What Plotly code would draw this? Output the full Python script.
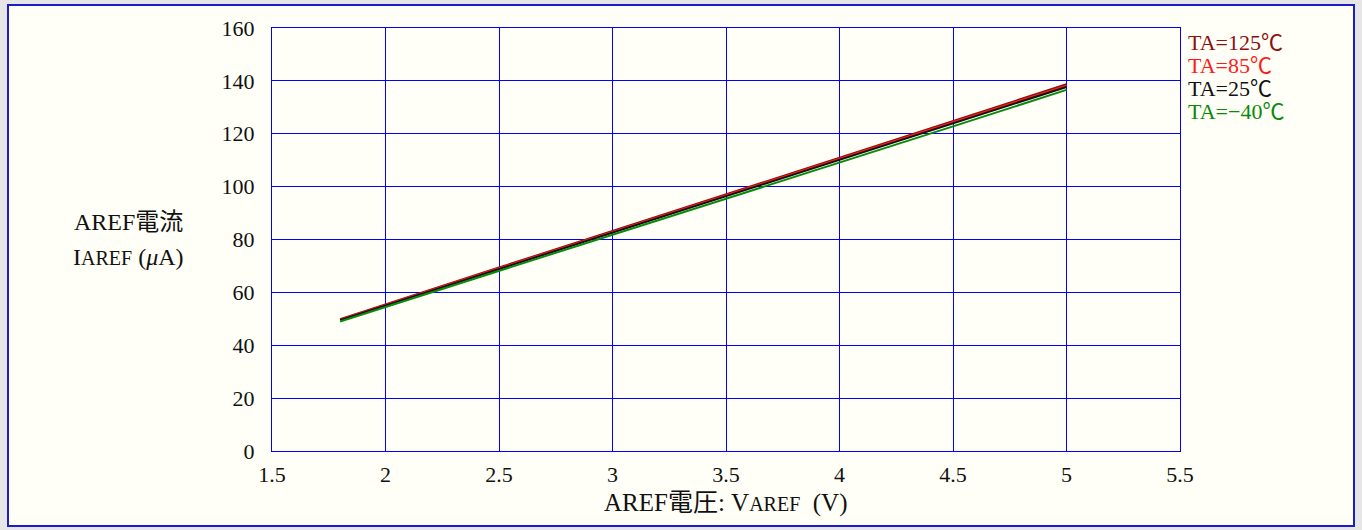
import plotly.graph_objects as go

# AREF voltage (V)
voltage = [1.8, 2.0, 2.5, 3.0, 3.5, 4.0, 4.5, 5.0]

# AREF current (uA) per ambient temperature
i_125 = [49.9, 55.5, 69.4, 83.2, 97.1, 110.9, 124.8, 138.7]
i_85 = [49.7, 55.3, 69.1, 82.9, 96.7, 110.5, 124.4, 138.2]
i_25 = [49.5, 55.0, 68.8, 82.6, 96.4, 110.1, 123.9, 137.7]
i_m40 = [49.0, 54.5, 68.1, 81.8, 95.4, 109.0, 122.8, 136.6]

series_names = ["TA=125℃", "TA=85℃", "TA=25℃", "TA=−40℃"]
series_values = [i_125, i_85, i_25, i_m40]
series_colors = ["#8b1010", "#ff1a1a", "#111111", "#0a8a0a"]

x_ticks = [1.5, 2, 2.5, 3, 3.5, 4, 4.5, 5, 5.5]
y_ticks = [0, 20, 40, 60, 80, 100, 120, 140, 160]

FONT = "Liberation Serif, Noto Sans CJK JP, serif"
W, H = 1362, 530
L, R, T, B = 272, 1180, 28, 451  # plot area in pixels


def px(x):
    return (x - L) / (R - L)


def py(y):
    return (B - y) / (B - T)


fig = go.Figure()
for name, vals, col in zip(series_names, series_values, series_colors):
    fig.add_trace(go.Scatter(x=voltage, y=vals, mode="lines", name=name,
                             line=dict(color=col, width=2), showlegend=False))

# outer frame
fig.add_shape(type="rect", xref="paper", yref="paper", layer="below",
              x0=px(8), x1=px(1354), y0=py(5), y1=py(526),
              line=dict(color="#1c1cc8", width=2), fillcolor="#fffff7")

# series labels on the right, stacked tightly
for i, (name, col) in enumerate(zip(series_names, series_colors)):
    fig.add_annotation(x=px(1187), y=py(42 + i * 23.2), xref="paper", yref="paper",
                       text=name, showarrow=False, xanchor="left", yanchor="middle",
                       borderpad=0, height=21,
                       font=dict(family=FONT, size=22, color=col))

small = '<span style="font-size:20px">AREF</span>'
fig.add_annotation(x=px(128), y=py(222), xref="paper", yref="paper",
                   text="AREF電流", showarrow=False, xanchor="center", yanchor="middle",
                   font=dict(family=FONT, size=24, color="#111"))
fig.add_annotation(x=px(128), y=py(257), xref="paper", yref="paper",
                   text="I" + small + " (<i>μ</i>A)", showarrow=False,
                   xanchor="center", yanchor="middle",
                   font=dict(family=FONT, size=24, color="#111"))
fig.add_annotation(x=px(726), y=py(503), xref="paper", yref="paper",
                   text="AREF電圧: V" + small + "  (V)", showarrow=False,
                   xanchor="center", yanchor="middle",
                   font=dict(family=FONT, size=25, color="#111"))

axis_common = dict(showgrid=True, gridcolor="#0000ff", gridwidth=1,
                   showline=True, linecolor="#0000ff", linewidth=1, mirror=True,
                   ticks="", zeroline=False,
                   tickfont=dict(family=FONT, size=22, color="#111"))

fig.update_xaxes(range=[1.5, 5.5], tickvals=x_ticks,
                 ticktext=[f"{v:g}" for v in x_ticks], ticklabelstandoff=4,
                 **axis_common)
fig.update_yaxes(range=[0, 160], tickvals=y_ticks,
                 ticktext=[str(v) for v in y_ticks], ticklabelstandoff=12,
                 **axis_common)

fig.update_layout(width=W, height=H,
                  margin=dict(l=L, r=W - R, t=T, b=H - B),
                  paper_bgcolor="#e6e6e6", plot_bgcolor="#fffff7",
                  font=dict(family=FONT, color="#111"))

fig.write_html("out.html")
